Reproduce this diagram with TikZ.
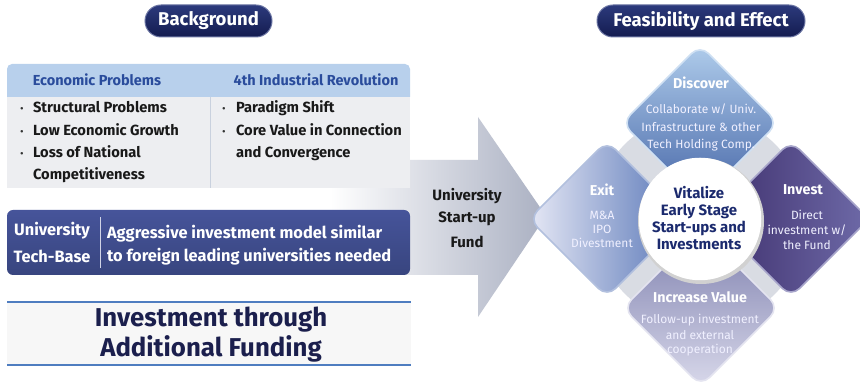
\documentclass[tikz,border=0pt]{standalone}
\usepackage{fontspec}
\setmainfont{Fira Sans}
\definecolor{pilltop}{HTML}{2C3A7C}
\definecolor{pillbot}{HTML}{141C50}
\definecolor{hdrblue}{HTML}{B8D0EC}
\definecolor{hdrtext}{HTML}{2A4C9C}
\definecolor{bodygray}{HTML}{EDEEF1}
\definecolor{divline}{HTML}{C9D1DE}
\definecolor{navytop}{HTML}{46549A}
\definecolor{navybot}{HTML}{38457F}
\definecolor{lineblue}{HTML}{4F7DC0}
\definecolor{bigtext}{HTML}{1B1F4D}
\definecolor{arrowgray}{HTML}{AAB0C2}
\definecolor{ringgray}{HTML}{D9DCE3}
\definecolor{discA}{HTML}{AFCCEB}
\definecolor{discB}{HTML}{4666A7}
\definecolor{exitA}{HTML}{E6E8F5}
\definecolor{exitB}{HTML}{5574B6}
\definecolor{invA}{HTML}{3F306D}
\definecolor{invB}{HTML}{6E6AA8}
\definecolor{incA}{HTML}{7E80AE}
\definecolor{incB}{HTML}{D8D8EA}
\definecolor{ctext}{HTML}{1B2A6E}
\pgfdeclareradialshading{cball}{\pgfpoint{0bp}{0bp}}{color(0bp)=(white); color(36bp)=(white); color(45bp)=(black!14); color(50bp)=(black!30)}
\tikzset{
  pill/.style={rounded corners=16pt, top color=pilltop, bottom color=pillbot, draw=pilltop!70!white, line width=1pt, text=white, font=\fontsize{18.5}{22}\selectfont\bfseries, minimum height=32pt},
  hdrlabel/.style={text=hdrtext, font=\fontsize{14.5}{17}\selectfont\bfseries},
  bodyline/.style={anchor=base west, text=black!90, font=\fontsize{14.7}{17}\selectfont\bfseries},
  bulletdot/.style={anchor=base, text=black!80, font=\fontsize{11}{12}\selectfont},
  boxline/.style={text=white, font=\fontsize{16.4}{19}\selectfont\bfseries},
  bigline/.style={text=bigtext, font=\fontsize{25.8}{30}\selectfont\bfseries},
  arrowtext/.style={text=black!90, font=\fontsize{15}{18}\selectfont\bfseries},
  dtitle/.style={text=white, font=\fontsize{14.3}{17}\selectfont\bfseries},
  dbody/.style={text=white!94!blue, font=\fontsize{12}{14}\selectfont},
  ctitle/.style={text=ctext, font=\fontsize{15}{18}\selectfont\bfseries},
  diam/.style={rounded corners=12pt, line width=1.6pt}
}
\begin{document}
\begin{tikzpicture}[x=1pt,y=1pt, every node/.style={inner sep=0pt, outer sep=0pt}]
\useasboundingbox (0,0) rectangle (860,382);
\fill[white] (0,0) rectangle (860,382);

% ---- big arrow ----
\shade[left color=white, right color=arrowgray]
  (330,222) -- (478,222) -- (478,265) -- (546,166) -- (478,65) -- (478,107) -- (330,107) -- cycle;

% ---- pills ----
\node[pill, minimum width=127pt] (bgpill) at (208.5,361) {Background};
\node[pill, minimum width=208pt] (fepill) at (701,361) {Feasibility and Effect};

% ---- top table ----
\fill[bodygray] (7,194) rectangle (410,285);
\fill[hdrblue] (7,285) -- (7,313) arc[start angle=180,end angle=90,radius=5] -- (405,318) arc[start angle=90,end angle=0,radius=5] -- (410,285) -- cycle;
\draw[divline, line width=1pt] (210,194) -- (210,285);
\node[hdrlabel] (h1) at (97,302) {Economic Problems};
\node[hdrlabel] (h2) at (316,302) {4th Industrial Revolution};

\node[bulletdot] (d1) at (22,269) {\textbullet};
\node[bulletdot] (d2) at (22,246) {\textbullet};
\node[bulletdot] (d3) at (22,224) {\textbullet};
\node[bodyline] (l1) at (33,269) {Structural Problems};
\node[bodyline] (l2) at (33,246) {Low Economic Growth};
\node[bodyline] (l3) at (33,224) {Loss of National};
\node[bodyline] (l4) at (33,202) {Competitiveness};

\node[bulletdot] (d4) at (224,269) {\textbullet};
\node[bulletdot] (d5) at (224,246) {\textbullet};
\node[bodyline] (r1) at (236,269) {Paradigm Shift};
\node[bodyline] (r2) at (236,246) {Core Value in Connection};
\node[bodyline] (r3) at (236,224) {and Convergence};

% ---- navy box ----
\shade[rounded corners=6pt, top color=navytop, bottom color=navybot] (7,107) rectangle (410,172);
\draw[white!75!navytop, line width=0.9pt] (100,114) -- (100,165);
\node[boxline] (u1) at (52,151) {University};
\node[boxline] (u2) at (52,126) {Tech-Base};
\node[boxline, anchor=west] (a1) at (107,148) {Aggressive investment model similar};
\node[boxline, anchor=west] (a2) at (107,125) {to foreign leading universities needed};

% ---- bottom band ----
\fill[black!3] (7,17) rectangle (411,80);
\draw[lineblue, line width=1.2pt] (7,80) -- (411,80);
\draw[lineblue, line width=1.2pt] (7,17) -- (411,17);
\node[bigline] (i1) at (211,62) {Investment through};
\node[bigline] (i2) at (211,33) {Additional Funding};

% ---- arrow text ----
\node[arrowtext] (f1) at (467,186) {University};
\node[arrowtext] (f2) at (467,163) {Start-up};
\node[arrowtext] (f3) at (467,140) {Fund};

% ---- diamond cluster ----
\fill[ringgray] (700,163) circle[radius=106];
\shade[diam, top color=discA, bottom color=discB, draw=discA!60!white, shift={(700,259)}]
  (0,78) -- (78,0) -- (0,-78) -- (-78,0) -- cycle;
\shade[diam, left color=exitA, right color=exitB, draw=exitB!45!white, shift={(607,163)}]
  (0,78) -- (78,0) -- (0,-78) -- (-78,0) -- cycle;
\shade[diam, left color=invA, right color=invB, draw=invB!60!white, shift={(791,163)}]
  (0,78) -- (78,0) -- (0,-78) -- (-78,0) -- cycle;
\shade[diam, top color=incA, bottom color=incB, draw=incB!70!white, shift={(701,74)}]
  (0,78) -- (78,0) -- (0,-78) -- (-78,0) -- cycle;

% centre circle
\fill[black!18] (701,161) circle[radius=63];
\shade[shading=cball, draw=white, line width=2.5pt] (700,163) circle[radius=60];

% diamond texts
\node[dtitle] (t1) at (701,299) {Discover};
\node[dbody] (t1a) at (701,273) {Collaborate w/ Univ.};
\node[dbody] (t1b) at (701,255) {Infrastructure \& other};
\node[dbody] (t1c) at (701,237) {Tech Holding Comp.};

\node[dtitle] (t2) at (602,192) {Exit};
\node[dbody] (t2a) at (602,167) {M\&A};
\node[dbody] (t2b) at (602,153) {IPO};
\node[dbody] (t2c) at (602,139) {Divestment};

\node[dtitle] (t3) at (803,192) {Invest};
\node[dbody] (t3a) at (807,167) {Direct};
\node[dbody] (t3b) at (807,152) {investment w/};
\node[dbody] (t3c) at (807,137) {the Fund};

\node[dtitle] (t4) at (700,85) {Increase Value};
\node[dbody] (t4a) at (700,62) {Follow-up investment};
\node[dbody] (t4b) at (700,47) {and external};
\node[dbody] (t4c) at (700,32) {cooperation};

\node[ctitle] (c1) at (699,189) {Vitalize};
\node[ctitle] (c2) at (699,171) {Early Stage};
\node[ctitle] (c3) at (699,154) {Start-ups and};
\node[ctitle] (c4) at (699,138) {Investments};
\end{tikzpicture}
\end{document}
